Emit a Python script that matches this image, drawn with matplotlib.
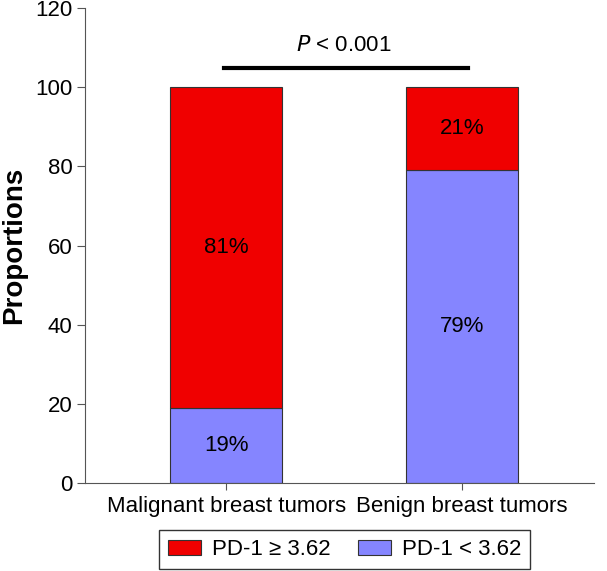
import matplotlib
matplotlib.use("Agg")
from matplotlib import pyplot as plt

plt.rcParams['font.family'] = ['Liberation Sans', 'DejaVu Sans']

groups = ["Malignant breast tumors", "Benign breast tumors"]
low = [19, 79]    # PD-1 < 3.62
high = [81, 21]   # PD-1 >= 3.62
series_names = ["PD-1 \u2265 3.62", "PD-1 < 3.62"]
y_ticks = [0, 20, 40, 60, 80, 100, 120]
p_text = "$\\it{P}$ < 0.001"

fig = plt.figure(figsize=(6.07, 5.71), dpi=100)
ax = fig.add_axes([0.14, 0.154, 0.8386, 0.832])

x = [0, 1]
red = "#f00000"
blue = "#8585ff"
b_low = ax.bar(x, low, width=0.475, color=blue, edgecolor="#333333", linewidth=0.8, label=series_names[1])
b_high = ax.bar(x, high, width=0.475, bottom=low, color=red, edgecolor="#333333", linewidth=0.8, label=series_names[0])

for i in x:
    ax.text(i, low[i] / 2, f"{low[i]}%", ha="center", va="center", fontsize=16)
    ax.text(i, low[i] + high[i] / 2, f"{high[i]}%", ha="center", va="center", fontsize=16)

ax.plot([-0.01, 1.025], [104.8, 104.8], color="black", linewidth=3)
ax.text(0.5, 107.8, p_text, ha="center", va="bottom", fontsize=16)

ax.set_xlim(-0.6, 1.56)
ax.set_ylim(0, 120)
ax.set_yticks(y_ticks)
ax.set_xticks(x)
ax.set_xticklabels(groups, fontsize=16)
ax.tick_params(axis="y", labelsize=16, direction="out", length=6, color="#555555", pad=3)
ax.tick_params(axis="x", direction="out", length=5, color="#555555", pad=4)
ax.set_ylabel("Proportions", fontsize=20, fontweight="bold", labelpad=6)
for s in ["top", "right"]:
    ax.spines[s].set_visible(False)
for s in ["left", "bottom"]:
    ax.spines[s].set_color("#555555")

leg = fig.legend([b_high, b_low], series_names, loc="center", bbox_to_anchor=(0.568, 0.037), ncol=2,
                 fontsize=16, frameon=True, fancybox=False, edgecolor="black", handlelength=1.5,
                 handleheight=0.6, handletextpad=0.5, columnspacing=1.2, borderpad=0.4)
leg.get_frame().set_linewidth(1.0)

fig.savefig("out.png", dpi=100)
